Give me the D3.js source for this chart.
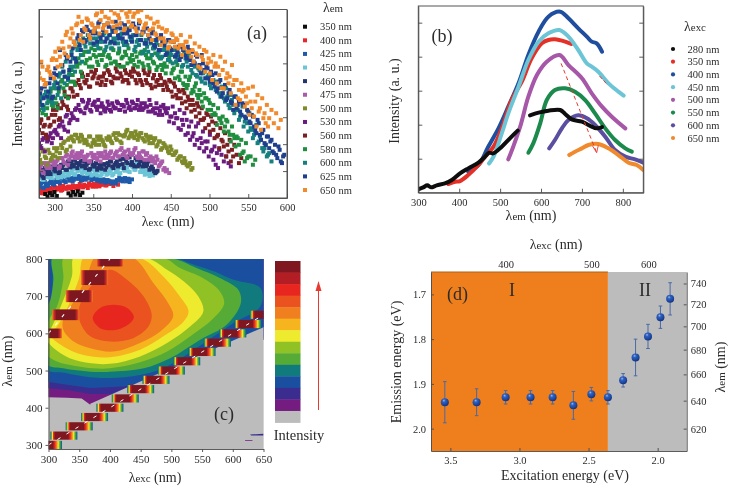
<!DOCTYPE html>
<html><head><meta charset="utf-8">
<script src="https://cdn.jsdelivr.net/npm/d3@7"></script>
<style>html,body{margin:0;padding:0;background:#fff}svg{display:block;filter:blur(.35px)}text{font-family:"Liberation Serif","Times New Roman",serif;fill:#2b2b2b}</style>
</head><body><svg id="c" width="730" height="487"></svg>
<script>
// ---------- panel (a): emission intensity vs excitation, 3 nm step
const aNames=["400 nm","425 nm","450 nm","460 nm","475 nm","500 nm","530 nm","560 nm","580 nm","600 nm","625 nm","650 nm","350 nm"];
const legendAOrder=["350 nm","400 nm","425 nm","450 nm","460 nm","475 nm","500 nm","530 nm","560 nm","580 nm","600 nm","625 nm","650 nm"];
const aColors={"350 nm":"#0d0d0d","400 nm":"#e8262b","425 nm":"#1f5aa8","450 nm":"#6cc5d6","460 nm":"#23346e","475 nm":"#a95aa8","500 nm":"#7f8a2a","530 nm":"#6a1b80","560 nm":"#7c1f22","580 nm":"#1f8f3f","600 nm":"#16807f","625 nm":"#1f3f8e","650 nm":"#f08a2c"};
const aStart={"350 nm":288};
const a350=[12,5,15,8,18,6,null,null,null,null,14,7,18,10,20,9,16];
const a400=[15,28,18,25,22,30,20,32,26,35,24,30,28,34,26,36,30,28,38,32,36,30,40,34,38,42,35,40,45,38,42,48,36,44,40];
const a425=[35,45,30,42,38,50,42,48,55,45,58,50,62,52,60,55,65,58,52,62,55,60,68,56,62,52,58,50,55,48,52,46,50,44,52,58,50,60,54,48,56];
const a450=[60,72,55,68,70,62,78,72,60,68,75,65,78,70,80,72,88,82,90,78,85,75,80,70,78,68,82,72,80,70,75,85,72,78,88,75,90,82,92,78,95,85,105,100,88,78,82,72,78,68,74];
const a460=[70,85,60,78,85,72,92,80,95,78,90,105,85,98,110,95,105,100,112,98,90,105,88,100,95,85,100,88,102,92,98,110,90,105,95,115,102,118,105,122,108,95,115,100,118,105,95,110,90,88,75,82];
const a475=[85,100,75,95,105,90,110,100,115,95,120,105,130,115,135,125,130,120,135,125,115,130,110,125,130,115,125,135,120,130,125,140,120,135,125,145,130,140,120,135,130,145,125,135,120,140,130,115,125,120,105,115,100,110,90,85,75];
const a500=[130,105,145,120,145,115,130,125,150,135,150,170,145,180,185,170,190,180,190,175,175,160,185,165,170,185,160,175,160,180,185,170,190,180,195,170,188,190,205,185,195,180,190,185,195,175,190,175,185,165,180,160,170,150,160,150,135,145,130,140,120,125,105,110,95,105,90];
const a530=[165,150,180,190,175,195,180,205,190,220,230,205,250,225,255,240,270,280,260,290,270,285,265,280,290,265,275,285,265,270,280,260,275,270,285,265,280,260,285,275,290,270,280,265,285,270,275,260,280,265,255,270,262,250,270,255,230,245,225,240,210,205,220,190,195,175,185,160,175,150,165,140,150,125,140,115,100,90];
const a560=[205,235,215,190,240,220,265,250,280,240,290,320,275,305,330,305,345,355,330,365,345,370,335,360,375,345,365,350,375,355,380,350,365,390,360,375,350,385,355,370,365,380,345,370,350,385,355,370,340,360,335,355,370,340,350,335,355,320,345,310,325,300,325,290,305,280,295,265,285,255,270,240,255,220,245,205,225,190,210,170,195,160,175,145,160,130,105,120];
const a580=[265,300,275,250,290,320,275,300,270,335,355,310,340,375,385,350,405,420,380,430,405,440,420,395,445,410,430,415,440,400,430,405,445,410,435,395,425,440,405,420,430,400,425,410,440,395,430,400,420,410,435,395,420,385,405,395,425,375,390,410,365,380,345,365,340,365,325,335,310,325,290,315,300,295,265,280,250,270,235,245,215,230,190,215,180,185,160,175,140,165,125,125,100,115];
const a600=[280,305,265,320,300,330,285,350,310,375,395,345,420,370,440,395,455,470,430,480,455,490,465,480,500,460,485,470,495,455,490,450,480,505,465,490,470,500,460,485,480,445,470,460,490,440,475,440,465,450,475,430,460,425,450,440,415,430,445,410,435,425,400,420,395,420,375,395,365,385,350,380,360,370,330,355,325,350,305,315,290,305,270,295,255,265,235,250,215,240,200,210,180,195,165,185,150,150,125,135,110];
const a625=[290,330,300,345,320,360,305,390,345,445,400,365,420,385,430,470,410,490,445,500,470,505,480,495,510,470,530,490,520,480,515,470,500,530,490,510,480,520,495,505,470,515,490,525,475,500,465,490,470,500,455,480,445,470,460,435,475,445,470,430,455,425,445,430,455,415,440,405,425,400,430,385,395,360,380,345,375,330,355,315,340,300,325,285,305,270,290,250,280,240,260,225,245,205,235,190,195,165,185,150,175,135,130,155,110,125];
const a650=[375,410,355,345,395,370,420,440,395,425,470,435,500,455,510,470,520,545,490,470,505,535,480,520,510,555,495,560,520,500,540,565,515,500,550,525,570,510,545,560,520,555,500,535,565,510,525,490,540,510,495,530,480,510,470,505,455,495,470,480,450,490,460,470,440,485,445,465,430,455,425,445,440,420,410,430,405,395,425,385,410,375,365,400,355,355,325,345,325,305,330,290,335,290,310,270,300,255,280,240,265,225,255,210,235];
// second reading of each scan, half a step later
const a400b=[22,14,30,20,28,24,34,26,30,22,36,28,34,30,38,32,36,42,34,40,36,44,38,42,34,46,40,44,38,46,42];
const a425b=[40,32,48,36,45,52,40,55,48,60,52,48,62,55,50,62,58,66,54,60,58,66,54,64,56,60,50,56,46,54,50,44,48,54,60,52,58,50,58];
const a450b=[65,55,78,62,75,60,72,65,78,62,70,80,68,75,85,70,80,88,75,85,72,82,68,85,72,80,66,78,85,72,80,68,90,80,72,92,85,98,80,108,92,85,98,78,85,70,76,66];
const a460b=[80,65,90,72,78,95,85,90,75,100,100,85,110,92,100,115,90,105,95,110,100,85,110,95,105,90,95,100,85,105,110,95,100,110,100,118,90,110,125,100,100,120,95,110,95,105,100,85,95,80,78];
const a475b=[95,80,105,90,95,110,100,110,90,120,110,125,100,125,140,120,135,125,140,115,125,110,135,120,120,135,110,125,140,120,135,120,130,140,125,150,135,125,145,130,135,150,120,125,140,115,135,120,110,110,125,95,105,85,80];
const a500b=[115,140,125,100,135,120,150,140,120,160,165,140,175,155,175,190,180,170,185,165,170,185,155,175,160,175,185,170,155,175,180,165,195,175,190,165,185,200,180,195,185,200,175,195,180,170,185,165,180,175,155,170,145,165,155,140,155,130,135,115,125,110,120,100,100,85];
const a530b=[155,175,140,170,185,165,200,195,215,180,215,245,200,235,245,265,235,265,295,255,275,295,260,285,275,295,255,275,260,290,265,285,270,290,265,280,275,295,270,265,285,270,295,275,265,285,275,295,260,270,285,250,275,280,260,270,245,275,255,240,265,235,255,235,215,230,195,215,225,180,200,170,170,190,145,155,135,145,130,110,125,105,95];
const a560b=[225,195,220,180,215,250,230,265,235,270,280,305,265,330,320,345,310,340,375,350,355,335,380,365,385,360,340,365,340,385,370,345,360,380,400,365,355,375,345,380,390,355,375,355,340,375,345,380,330,370,350,340,360,325,345,325,350,305,335,300,320,285,315,270,295,260,280,245,275,235,235,210,250,200,230,180,185,150,175,155,125,140,110,125];
const a580b=[285,255,310,270,305,280,330,285,320,350,330,365,300,350,370,340,395,405,365,440,415,395,450,430,425,400,450,430,395,425,420,450,410,400,440,420,395,430,450,410,415,440,395,435,405,445,420,390,430,405,385,425,400,395,375,415,410,385,360,400,355,380,340,330,355,315,320,345,300,310,275,300,265,285,250,255,220,240,225,200,235,200,170,190,155,180,130,135,110,120];
const a600b=[295,270,310,285,315,290,340,330,365,300,380,410,355,395,420,380,445,450,410,465,475,440,500,460,480,450,470,490,445,480,465,500,475,480,450,495,460,470,510,475,490,455,475,475,435,465,455,480,430,450,465,440,420,445,470,415,435,405,450,420,425,395,440,410,430,385,405,370,390,360,375,345,365,340,370,350,345,315,335,300,330,280,310,280,305,265,245,275,230,225,255,205,190,220,170,175,140,160,130];
const a625b=[315,280,335,305,345,300,375,370,330,400,380,430,360,410,450,420,480,460,505,475,515,485,500,465,495,525,480,505,470,525,490,510,465,515,480,525,495,470,505,485,525,490,510,475,500,465,510,480,495,460,475,445,490,460,430,475,450,470,425,440,415,455,430,420,445,400,410,430,395,375,405,360,390,350,370,335,320,350,305,330,295,315,290,265,305,280,260,285,245,265,230,250,215,195,225,175,205,160,185,170,140,160,120,145,105,130];
const a650b=[360,395,340,385,380,415,360,415,450,400,450,490,425,480,495,460,525,475,530,510,540,490,525,500,550,515,535,510,545,525,575,530,555,520,540,565,505,555,530,515,545,510,560,530,495,520,545,505,475,525,490,515,460,480,500,450,470,490,455,475,460,430,450,470,440,425,410,435,395,390,415,380,405,375,355,395,345,370,330,330,360,345,315,340,280,300,295,320,275,285,250,270,245,215,260,205,240,225,215];
const aSeries={"350 nm":[a350],"400 nm":[a400,a400b],"425 nm":[a425,a425b],"450 nm":[a450,a450b],"460 nm":[a460,a460b],"475 nm":[a475,a475b],"500 nm":[a500,a500b],"530 nm":[a530,a530b],"560 nm":[a560,a560b],"580 nm":[a580,a580b],"600 nm":[a600,a600b],"625 nm":[a625,a625b],"650 nm":[a650,a650b]};
const aXTicks=[300,350,400,450,500,550,600];

// ---------- panel (b): emission spectra [nm, a.u.]
const b280a=[[300,10],[312,16],[322,22],[331,16],[345,22],[365,28],[382,38],[402,58],[422,73],[447,90],[463,108],[473,120],[483,118],[504,138],[524,163],[543,186]];
const b280b=[[573,232],[594,240],[618,246],[647,248],[659,236],[675,220],[700,213],[724,198],[735,193],[749,197]];
const b350=[[373,26],[390,33],[402,35],[422,53],[447,83],[463,108],[484,138],[504,193],[528,278],[553,333],[577,403],[602,448],[618,458],[634,460],[659,453],[674,446]];
const b400=[[422,63],[447,83],[471,138],[496,193],[520,258],[545,328],[569,413],[594,483],[618,528],[647,543],[667,523],[691,493],[712,468],[724,453],[736,448],[749,423]];
const b450=[[473,88],[484,108],[504,178],[520,238],[545,318],[569,398],[594,453],[618,478],[645,488],[667,468],[691,428],[712,388],[724,378],[740,363],[765,328],[789,303],[802,291]];
const b500=[[520,100],[532,138],[549,198],[569,288],[590,353],[614,393],[645,413],[667,383],[700,343],[724,298],[749,258],[773,228],[806,193]];
const b550=[[569,120],[581,148],[598,208],[614,278],[634,308],[659,313],[683,303],[708,278],[732,238],[757,193],[781,158],[806,133],[822,123]];
const b600=[[620,133],[634,158],[651,193],[667,218],[691,232],[712,223],[732,203],[757,168],[781,128],[806,108],[830,100],[850,90]];
const b650=[[669,113],[683,123],[700,133],[716,143],[740,146],[765,133],[789,113],[814,90],[834,83],[850,68]];
const bPeakTrace=[[649,388],[736,120]];
const bArrowHead=[[726,140],[736,120],[740,142]];
const bRedFrag=[[743,350],[763,323]];
const bSeries=[["280 nm","#0d0d0d",[b280a,b280b]],["350 nm","#e53027",[b350]],["400 nm","#1f4e9e",[b400]],["450 nm","#6cc5d6",[b450]],["500 nm","#a757a8",[b500]],["550 nm","#1c8a4c",[b550]],["600 nm","#5a4ea0",[b600]],["650 nm","#f08a2c",[b650]]];
const bDrawOrder=["400 nm","350 nm","450 nm","500 nm","550 nm","600 nm","650 nm","280 nm"];
const bXTicks=[300,400,500,600,700,800];

// ---------- panel (c): excitation-emission map, filled contour outlines [exc, em]
const cLevelColors=["#751c81","#3b2d8f","#1a4fa0","#117a7c","#56ab36","#90c225","#eeea2e","#f6b51e","#f0801f","#ea5220","#e7261f"];
const cL1=[[295,428],[330,427],[354,425],[368,408],[420,408],[660,590],[700,820],[295,820]];
const cL2=[[295,453],[330,448],[368,437],[406,437],[440,440],[660,590],[700,820],[295,820]];
const cL3=[[295,471],[330,462],[368,453],[422,457],[482,480],[560,500],[660,600],[700,820],[295,820]];
const cL4=[[295,506],[330,493],[368,482],[400,480],[449,488],[493,511],[569,592],[601,628],[645,673],[645,722],[601,744],[569,767],[536,785],[503,803],[307,810],[307,753],[304,690],[295,680]];
const cL5=[[295,520],[324,506],[368,497],[400,497],[455,506],[498,533],[547,583],[590,623],[613,681],[609,717],[579,749],[541,776],[498,803],[309,810],[308,744],[303,690],[295,660]];
const cL6=[[295,547],[314,524],[341,513],[373,506],[400,506],[449,522],[493,551],[531,592],[569,641],[586,681],[577,717],[547,753],[514,776],[487,803],[327,810],[324,744],[314,673],[301,637],[295,600]];
const cL7=[[295,590],[319,547],[352,524],[400,518],[449,538],[493,574],[531,619],[552,659],[544,699],[520,740],[493,771],[460,803],[343,810],[338,753],[322,681],[303,610]];
const cL8=[[303,596],[324,565],[357,542],[400,536],[449,556],[487,592],[520,632],[528,659],[514,699],[487,753],[449,803],[360,810],[349,744],[327,655],[314,619]];
const cL9=[[324,610],[341,578],[368,560],[406,551],[449,574],[482,605],[503,646],[495,681],[471,735],[438,803],[379,810],[362,753],[346,699],[324,637]];
const cL10=[[352,628],[368,592],[400,578],[438,587],[463,619],[468,650],[455,699],[428,744],[400,771],[379,744],[357,699],[349,659]];
const cL11=[[372,641],[384,614],[411,610],[433,628],[439,644],[428,668],[406,677],[384,668]];
const cLevels=[cL1,cL2,cL3,cL4,cL5,cL6,cL7,cL8,cL9,cL10,cL11];
const cMask=[[368,411],[660,624],[670,280],[368,280]];
const cSmears=[[[628,328],[650,330],[650,325],[630,325]],[[620,313],[632,313],[632,311],[620,311]]];
const cFirstOrderEm=[300,325,350,375,400,425,450,475,500,525,550,575,600,625,650];
const cSecondOrder=[[300,600,26],[328,650,29],[350,700,32],[375,750,40],[400,800,40]];
const cBarColors=["#7e1720","#b21e24","#e7261f","#ea5220","#f0801f","#f6b51e","#eeea2e","#90c225","#56ab36","#117a7c","#1a4fa0","#3b2d8f","#751c81","#bdbcbc"];
const cXTicks=[300,350,400,450,500,550,600,650], cYTicks=[300,400,500,600,700,800];

// ---------- panel (d): emission energy vs excitation energy
const dExc=[3.54,3.31,3.10,2.92,2.76,2.61,2.48,2.36,2.25,2.16,2.07,1.98,1.91];
const dEm=[1.941,1.941,1.930,1.930,1.930,1.948,1.923,1.930,1.892,1.841,1.794,1.751,1.710];
const dErr=[.046,.030,.015,.015,.015,.031,.015,.015,.015,.041,.027,.025,.036];
const dXTicks=[3.5,3,2.5,2], dYTicks=[1.7,1.8,1.9,2.0], dTopNm=[400,500,600], dRightNm=[620,640,660,680,700,720,740];
const dBoundary=2.36;

// ---------- drawing
const svg=d3.select("#c");
const defs=svg.append("defs");
const INK="#4a4a4a";
function label(x,y,sub,rest,size,rot){
  const t=svg.append("text").attr("font-size",size).attr("text-anchor","middle");
  if(rot) t.attr("transform",`translate(${x},${y}) rotate(-90)`); else t.attr("x",x).attr("y",y);
  t.append("tspan").text("λ");
  t.append("tspan").attr("font-size",size*.78).text(sub);
  if(rest) t.append("tspan").text(rest);
  return t;
}
function plain(x,y,s,size,anchor,rot){
  const t=svg.append("text").attr("font-size",size).attr("text-anchor",anchor||"middle").text(s);
  if(rot) t.attr("transform",`translate(${x},${y}) rotate(-90)`); else t.attr("x",x).attr("y",y);
  return t;
}
function styleAxis(g,size){
  g.selectAll("line").attr("stroke",INK).attr("stroke-width",.9);
  g.selectAll("path").attr("stroke",INK).attr("stroke-width",.9).attr("fill","none");
  g.selectAll("text").attr("font-size",size).attr("fill","#2b2b2b");
}
function clip(id,x,y,w,h){defs.append("clipPath").attr("id",id).append("rect").attr("x",x).attr("y",y).attr("width",w).attr("height",h);}
function box(x0,x1,y0,y1){svg.append("rect").attr("x",x0).attr("y",y1).attr("width",x1-x0).attr("height",y0-y1).attr("fill","none").attr("stroke","#555").attr("stroke-width",1);}

// (a)
{
  const x=d3.scaleLinear([280,600],[39,287]), y=d3.scaleLinear([0,567],[198,9.5]);
  clip("ca",39,9.5,248,188.5);
  const g=svg.append("g").attr("clip-path","url(#ca)");
  aNames.forEach(n=>{
    const s=aStart[n]||280;
    aSeries[n].forEach((arr,k)=>{
      g.append("g").selectAll("rect").data(arr.map((v,i)=>[s+i*3+k*1.5,v]).filter(d=>d[1]!==null))
       .join("rect").attr("x",d=>x(d[0])-2).attr("y",d=>y(d[1])-2).attr("width",4).attr("height",4).attr("fill",aColors[n]);
    });
  });
  box(39,287,198,9.5);
  const ax=svg.append("g").attr("transform","translate(0,198)").call(d3.axisBottom(x).tickValues(aXTicks).tickSizeInner(-4).tickSizeOuter(0).tickPadding(6));
  styleAxis(ax,10.5);
  const yt=d3.range(81,567,81);
  styleAxis(svg.append("g").attr("transform","translate(39,0)").call(d3.axisLeft(y).tickValues(yt).tickSizeInner(-4).tickSizeOuter(0).tickFormat("")),10);
  styleAxis(svg.append("g").attr("transform","translate(287,0)").call(d3.axisRight(y).tickValues(yt).tickSizeInner(-4).tickSizeOuter(0).tickFormat("")),10);
  plain(22,104,"Intensity (a. u.)",14,"middle",true);
  label(168,226,"exc"," (nm)",14);
  plain(257,39,"(a)",18);
  label(333,12,"em","",14);
  const rowA=d3.scalePoint(legendAOrder,[26.7,190]);
  legendAOrder.forEach(n=>{
    svg.append("rect").attr("x",303).attr("y",rowA(n)-2).attr("width",4).attr("height",4).attr("fill",aColors[n]);
    plain(320,rowA(n)+3.5,n,10.5,"start");
  });
}

// (b)
{
  const x=d3.scaleLinear([300,850],[418.3,643.3]), y=d3.scaleLinear([0,560],[192.7,6]);
  clip("cb",418.3,6,225,186.7);
  const g=svg.append("g").attr("clip-path","url(#cb)");
  const line=d3.line().x(d=>x(d[0])).y(d=>y(d[1])).curve(d3.curveCatmullRom.alpha(.5));
  const lookup=new Map(bSeries.map(s=>[s[0],s]));
  bDrawOrder.forEach(n=>{
    const s=lookup.get(n);
    s[2].forEach(part=>g.append("path").attr("d",line(part)).attr("fill","none").attr("stroke",s[1]).attr("stroke-width",4).attr("stroke-linecap","round").attr("stroke-linejoin","round"));
  });
  const st=d3.line().x(d=>x(d[0])).y(d=>y(d[1]));
  g.append("path").attr("d",st(bPeakTrace)).attr("fill","none").attr("stroke","#e8392f").attr("stroke-width",1).attr("stroke-dasharray","4 3");
  g.append("path").attr("d",st(bArrowHead)).attr("fill","none").attr("stroke","#e8392f").attr("stroke-width",.9);
  g.append("path").attr("d",st(bRedFrag)).attr("fill","none").attr("stroke","#e8392f").attr("stroke-width",1).attr("stroke-dasharray","4 2");
  box(418.3,643.3,192.7,6);
  styleAxis(svg.append("g").attr("transform","translate(0,192.7)").call(d3.axisBottom(x).tickValues(bXTicks).tickSizeInner(-4).tickSizeOuter(0).tickPadding(6)),10.5);
  const yt=d3.range(102,560,102);
  styleAxis(svg.append("g").attr("transform","translate(418.3,0)").call(d3.axisLeft(y).tickValues(yt).tickSizeInner(-4).tickSizeOuter(0).tickFormat("")),10);
  styleAxis(svg.append("g").attr("transform","translate(643.3,0)").call(d3.axisRight(y).tickValues(yt).tickSizeInner(-4).tickSizeOuter(0).tickFormat("")),10);
  plain(399,101,"Intensity (a. u.)",14,"middle",true);
  label(531,220,"em"," (nm)",14);
  plain(442,41.5,"(b)",18);
  label(695,31,"exc","",14);
  const rowB=d3.scalePoint(bSeries.map(s=>s[0]),[49,138]);
  bSeries.forEach(s=>{
    svg.append("circle").attr("cx",673).attr("cy",rowB(s[0])).attr("r",2.1).attr("fill",s[1]);
    plain(687.5,rowB(s[0])+3.5,s[0],10.5,"start");
  });
}

// (c)
{
  const x=d3.scaleLinear([300,650],[48.5,263.5]), y=d3.scaleLinear([289,800],[449,259]);
  clip("cc",48.5,259,215,190);
  const g=svg.append("g").attr("clip-path","url(#cc)");
  g.append("rect").attr("x",48.5).attr("y",259).attr("width",215).attr("height",190).attr("fill","#bdbcbc");
  const loop=d3.line().x(d=>x(d[0])).y(d=>y(d[1])).curve(d3.curveCatmullRomClosed.alpha(.5));
  const poly=d3.line().x(d=>x(d[0])).y(d=>y(d[1])).curve(d3.curveLinearClosed);
  cLevels.forEach((L,i)=>g.append("path").attr("d",(i<3?poly:loop)(L)).attr("fill",cLevelColors[i]));
  g.append("path").attr("d",poly(cMask)).attr("fill","#bdbcbc");
  cSmears.forEach((s,i)=>g.append("path").attr("d",poly(s)).attr("fill",i?"#751c81":"#3b2d8f"));
  const g1=defs.append("linearGradient").attr("id","gr1");
  [[0,"#1a4fa0"],[4,"#56ab36"],[8,"#eeea2e"],[12,"#e7261f"],[18,"#7e1720"],[66,"#7e1720"],[73,"#e7261f"],[80,"#f0801f"],[86,"#eeea2e"],[92,"#56ab36"],[97,"#117a7c"],[100,"#1a4fa0"]]
    .forEach(s=>g1.append("stop").attr("offset",s[0]+"%").attr("stop-color",s[1]));
  const g2=defs.append("linearGradient").attr("id","gr2");
  [[0,"#f0801f"],[8,"#c8262a"],[16,"#7e1720"],[84,"#7e1720"],[92,"#c8262a"],[100,"#f0801f"]]
    .forEach(s=>g2.append("stop").attr("offset",s[0]+"%").attr("stop-color",s[1]));
  g.selectAll(".p1").data(cFirstOrderEm).join("rect").attr("class","p1")
    .attr("x",d=>x(d-22)).attr("width",x(344)-x(300)).attr("y",d=>y(d+11)).attr("height",y(300)-y(322)).attr("fill","url(#gr1)");
  g.selectAll(".p2").data(cSecondOrder).join("rect").attr("class","p2")
    .attr("x",d=>x(d[0]-22)).attr("width",x(344)-x(300)).attr("y",d=>y(d[1]+d[2]/2)).attr("height",d=>y(300)-y(300+d[2])).attr("fill","url(#gr2)");
  const st=d3.line().x(d=>x(d[0])).y(d=>y(d[1]));
  g.append("path").attr("d",st([[300,300],[650,650]])).attr("stroke","#fff").attr("stroke-width",1).attr("stroke-dasharray","3.5 7").attr("fill","none");
  g.append("path").attr("d",st([[300,600],[400,800]])).attr("stroke","#fff").attr("stroke-width",1.1).attr("stroke-dasharray","3.5 7").attr("fill","none");
  styleAxis(svg.append("g").attr("transform","translate(0,449)").call(d3.axisBottom(x).tickValues(cXTicks).tickSizeInner(3).tickSizeOuter(0).tickPadding(3)),11);
  styleAxis(svg.append("g").attr("transform","translate(48.5,0)").call(d3.axisLeft(y).tickValues(cYTicks).tickSizeInner(3).tickSizeOuter(0).tickPadding(3)),11);
  plain(224,420,"(c)",18);
  label(155,481.5,"exc"," (nm)",14);
  label(12,361,"em"," (nm)",14,true);
  const bar=d3.scaleBand(d3.range(cBarColors.length),[261,422.5]);
  svg.append("g").selectAll("rect").data(cBarColors).join("rect").attr("x",275).attr("y",(d,i)=>bar(i)).attr("width",25.5).attr("height",bar.bandwidth()+.4).attr("fill",d=>d);
  svg.append("line").attr("x1",318.5).attr("x2",318.5).attr("y1",410).attr("y2",287).attr("stroke","#e8392f").attr("stroke-width",1);
  svg.append("path").attr("d","M318.5,281L315.5,291L321.5,291Z").attr("fill","#e8392f");
  plain(299,440,"Intensity",14.5);
}

// (d)
{
  const x=d3.scaleLinear([3.64,1.79],[431,686.7]), y=d3.scaleLinear([1.65,2.05],[272,451]);
  svg.append("rect").attr("x",x(3.64)).attr("y",272).attr("width",x(dBoundary)-x(3.64)).attr("height",179).attr("fill","#ee7f1c");
  svg.append("rect").attr("x",x(dBoundary)).attr("y",272).attr("width",x(1.79)-x(dBoundary)).attr("height",179).attr("fill","#bdbcbc");
  svg.append("line").attr("x1",431).attr("x2",x(dBoundary)).attr("y1",272).attr("y2",272).attr("stroke","#a8641e").attr("stroke-width",1);
  const grad=defs.append("radialGradient").attr("id","ball").attr("cx","38%").attr("cy","30%").attr("r","75%");
  [[0,"#9db8ea"],[25,"#2f62c0"],[70,"#1b459f"],[100,"#122f75"]].forEach(s=>grad.append("stop").attr("offset",s[0]+"%").attr("stop-color",s[1]));
  const pts=dExc.map((e,i)=>({e,m:dEm[i],r:dErr[i]}));
  const eb=svg.append("g").attr("stroke","#4a69a6").attr("stroke-width",1);
  eb.selectAll(".v").data(pts).join("line").attr("class","v").attr("x1",d=>x(d.e)).attr("x2",d=>x(d.e)).attr("y1",d=>y(d.m-d.r)).attr("y2",d=>y(d.m+d.r));
  eb.selectAll(".t").data(pts).join("line").attr("class","t").attr("x1",d=>x(d.e)-1.8).attr("x2",d=>x(d.e)+1.8).attr("y1",d=>y(d.m-d.r)).attr("y2",d=>y(d.m-d.r));
  eb.selectAll(".b").data(pts).join("line").attr("class","b").attr("x1",d=>x(d.e)-1.8).attr("x2",d=>x(d.e)+1.8).attr("y1",d=>y(d.m+d.r)).attr("y2",d=>y(d.m+d.r));
  svg.append("g").selectAll("circle").data(pts).join("circle").attr("cx",d=>x(d.e)).attr("cy",d=>y(d.m)).attr("r",4).attr("fill","url(#ball)");
  styleAxis(svg.append("g").attr("transform","translate(0,451)").call(d3.axisBottom(x).tickValues(dXTicks).tickFormat(d3.format(".1f")).tickSizeInner(-3).tickSizeOuter(0).tickPadding(6)),10.5);
  styleAxis(svg.append("g").attr("transform","translate(431,0)").call(d3.axisLeft(y).tickValues(dYTicks).tickFormat(d3.format(".1f")).tickSizeInner(-3).tickSizeOuter(0).tickPadding(5)),10.5);
  styleAxis(svg.append("g").attr("transform","translate(686.7,0)").call(d3.axisRight(y).tickValues(dRightNm.map(n=>1240/n)).tickFormat(v=>Math.round(1240/v)).tickSizeInner(-3).tickSizeOuter(0).tickPadding(4)),10.5);
  const top=svg.append("g").attr("transform","translate(0,272)").call(d3.axisTop(x).tickValues(dTopNm.map(n=>1240/n)).tickFormat(v=>Math.round(1240/v)).tickSizeInner(0).tickSizeOuter(0).tickPadding(4));
  styleAxis(top,10.5); top.select("path").remove();
  plain(512,296,"I",18); plain(645,296,"II",18); plain(457.5,300,"(d)",18);
  plain(565,480,"Excitation energy (eV)",14);
  plain(401,362,"Emission energy (eV)",14,"middle",true);
  label(556,249,"exc"," (nm)",14);
  label(725,367,"em"," (nm)",14,true);
}
</script></body></html>
